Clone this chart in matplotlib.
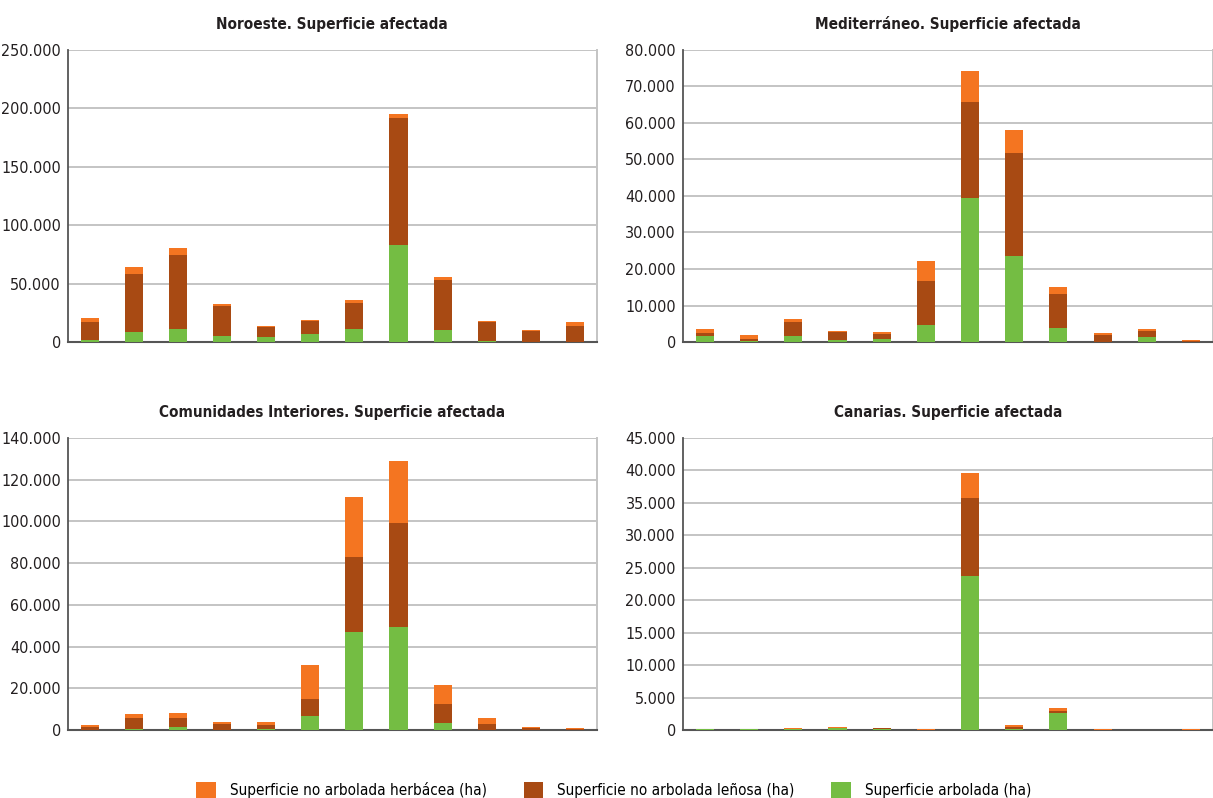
import matplotlib.pyplot as plt
from matplotlib.ticker import FuncFormatter
import numpy as np

plt.rcParams['font.family'] = ['DejaVu Sans']
plt.rcParams['font.stretch'] = 'condensed'

# 12 periods per region, values in ha
periodos = list(range(12))

noroeste_arbolada = [2000, 8800, 11400, 5400, 4600, 7100, 11400, 83200, 10500, 1100, 300, 300]
noroeste_lenosa = [15400, 49600, 63300, 25700, 8500, 11100, 22200, 108700, 42800, 16300, 9400, 13700]
noroeste_herbacea = [3400, 6000, 6000, 1700, 900, 900, 2600, 3400, 2600, 800, 800, 3400]

medit_arbolada = [1700, 200, 1700, 600, 900, 4700, 39500, 23600, 3900, 100, 1500, 100]
medit_lenosa = [900, 700, 3900, 2200, 1400, 12100, 26300, 28200, 9300, 1900, 1600, 300]
medit_herbacea = [1000, 1100, 800, 300, 500, 5500, 8500, 6300, 1900, 600, 500, 200]

interior_arbolada = [100, 600, 1600, 100, 600, 6900, 47100, 49500, 3500, 100, 100, 100]
interior_lenosa = [1500, 5300, 4300, 2900, 2000, 8100, 35900, 49800, 9100, 2900, 1000, 500]
interior_herbacea = [600, 1900, 2400, 1000, 1400, 16300, 28700, 29700, 9100, 2900, 500, 500]

canarias_arbolada = [100, 100, 150, 250, 150, 0, 23750, 200, 2670, 0, 0, 0]
canarias_lenosa = [0, 0, 50, 100, 100, 50, 12010, 300, 330, 0, 0, 0]
canarias_herbacea = [0, 0, 50, 50, 50, 150, 3840, 200, 400, 150, 0, 150]

regiones = [
    ('Noroeste. Superficie afectada', noroeste_arbolada, noroeste_lenosa, noroeste_herbacea, 250000, 50000),
    ('Mediterráneo. Superficie afectada', medit_arbolada, medit_lenosa, medit_herbacea, 80000, 10000),
    ('Comunidades Interiores. Superficie afectada', interior_arbolada, interior_lenosa, interior_herbacea, 140000, 20000),
    ('Canarias. Superficie afectada', canarias_arbolada, canarias_lenosa, canarias_herbacea, 45000, 5000),
]

c_herb = '#F47521'
c_len = '#A84A13'
c_arb = '#74BD43'

fig = plt.figure(figsize=(12.13, 7.98), dpi=100)
posiciones = [
    [0.056, 0.5714, 0.436, 0.366],
    [0.563, 0.5714, 0.437, 0.366],
    [0.056, 0.0852, 0.436, 0.366],
    [0.563, 0.0852, 0.437, 0.366],
]

fmt = FuncFormatter(lambda v, p: f'{int(v):,}'.replace(',', '.'))

for pos, (titulo, arb, len_, herb, ymax, paso) in zip(posiciones, regiones):
    ax = fig.add_axes(pos)
    x = np.array(periodos)
    arb = np.array(arb)
    len_ = np.array(len_)
    herb = np.array(herb)
    w = 0.41
    ax.bar(x, arb, w, color=c_arb, label='Superficie arbolada (ha)', zorder=3)
    ax.bar(x, len_, w, bottom=arb, color=c_len, label='Superficie no arbolada leñosa (ha)', zorder=3)
    ax.bar(x, herb, w, bottom=arb + len_, color=c_herb, label='Superficie no arbolada herbácea (ha)', zorder=3)
    ax.set_xlim(-0.5, 11.5)
    ax.set_ylim(0, ymax)
    ax.set_yticks(np.arange(0, ymax + 1, paso))
    ax.yaxis.set_major_formatter(fmt)
    ax.set_xticks([])
    ax.grid(axis='y', color='#c4c4c4', linewidth=1.4, zorder=0)
    ax.tick_params(axis='y', length=0, labelsize=11.5, colors='#231f20', pad=5)
    ax.spines['left'].set_color('#555555')
    ax.spines['bottom'].set_color('#555555')
    ax.spines['left'].set_linewidth(1.3)
    ax.spines['bottom'].set_linewidth(1.5)
    ax.spines['top'].set_visible(False)
    ax.spines['right'].set_color('#c4c4c4')
    ax.spines['right'].set_linewidth(1.4)
    ax.set_title(titulo, fontsize=11, fontweight='bold', color='#231f20', pad=15)

handles, labels = ax.get_legend_handles_labels()
fig.legend(handles[::-1], labels[::-1], loc='lower center', bbox_to_anchor=(0.506, -0.018),
           ncol=3, frameon=False, fontsize=11, handlelength=1.3, handleheight=1.3,
           columnspacing=2.4, handletextpad=0.9)

fig.savefig('out.png', dpi=100)
